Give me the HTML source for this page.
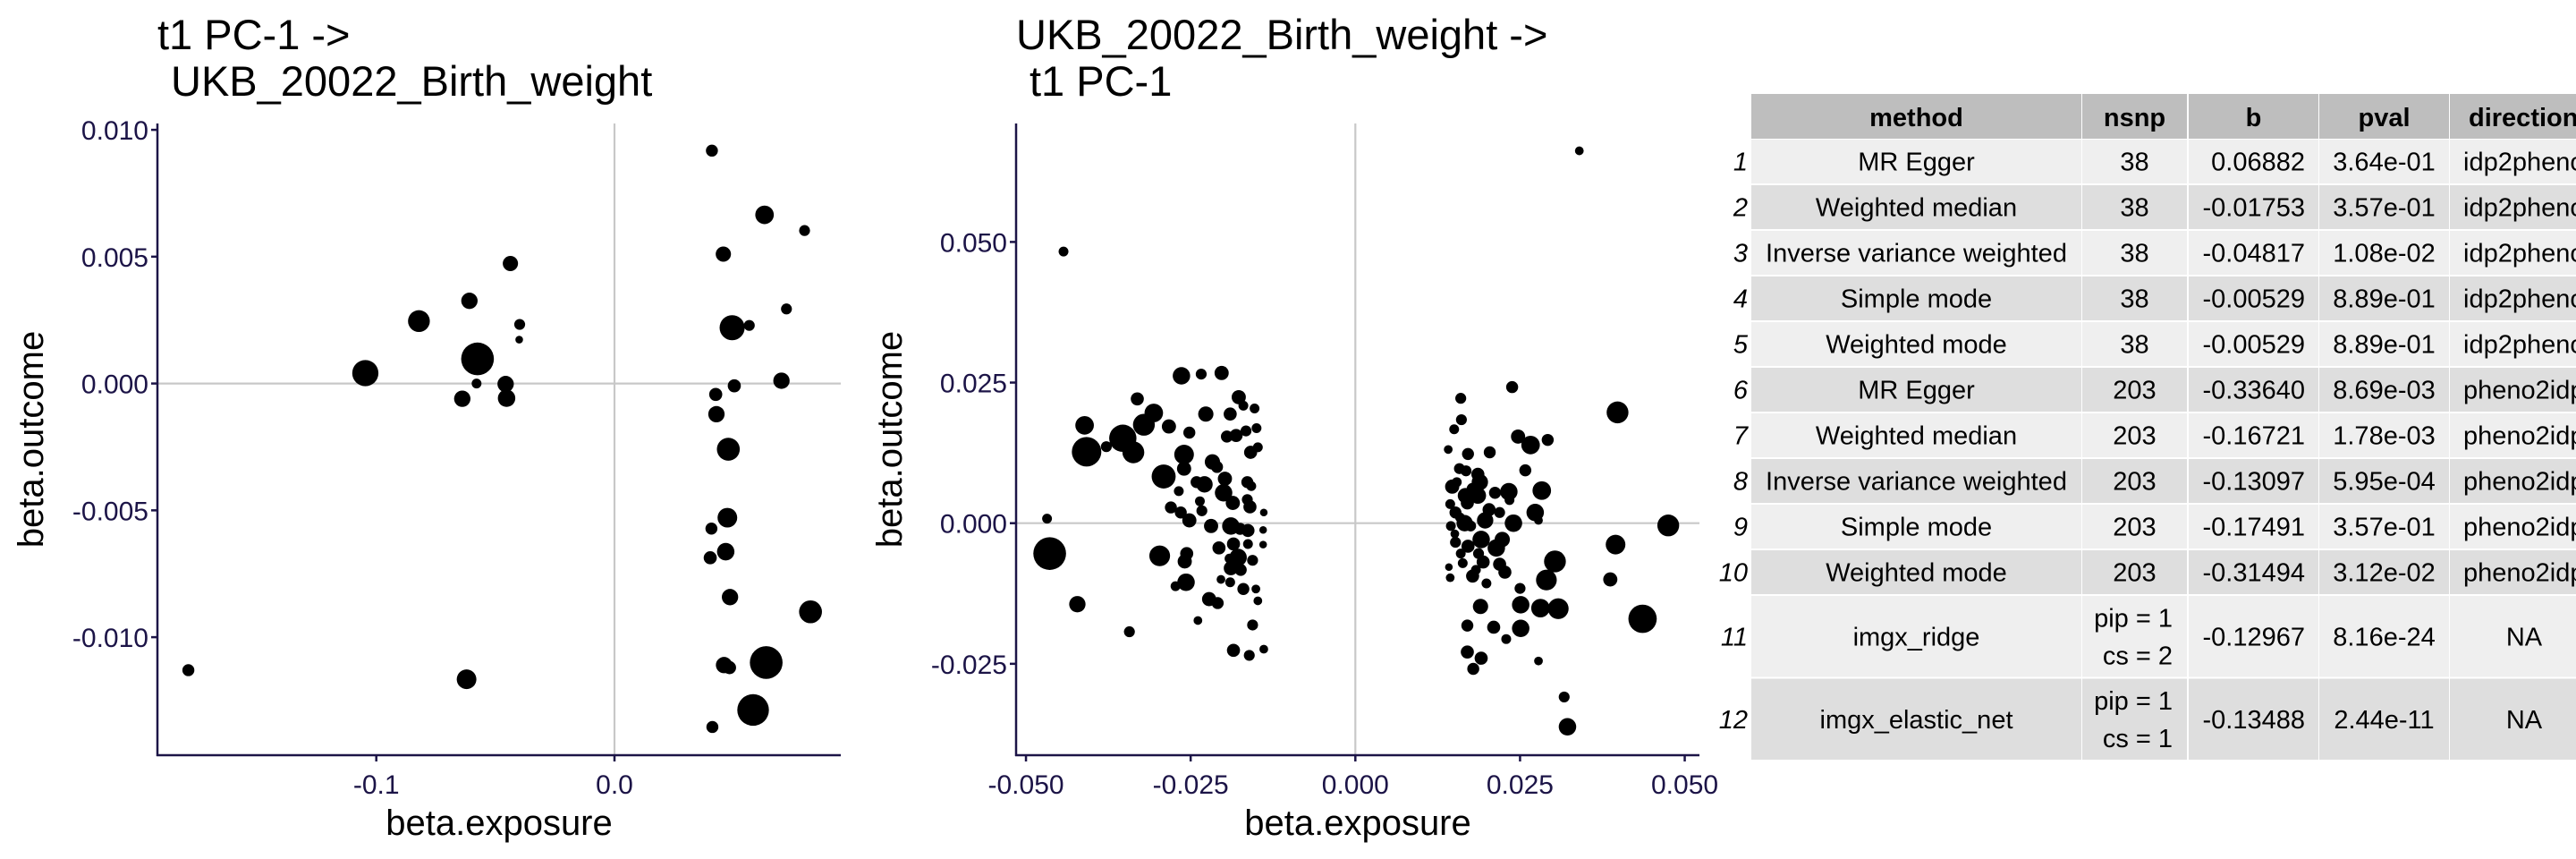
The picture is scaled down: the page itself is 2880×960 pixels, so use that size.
<!DOCTYPE html>
<html><head><meta charset="utf-8">
<style>
html,body{margin:0;padding:0;background:#fff;width:2880px;height:960px;overflow:hidden}
svg{display:block;font-family:"Liberation Sans",sans-serif}
</style></head>
<body>
<svg id="root" width="2880" height="960" viewBox="0 0 2880 960" xmlns="http://www.w3.org/2000/svg">
<g id="p1"></g>
<g id="p2"></g>
<g id="tbl"></g>
</svg>
<script>
// Panel 1 data: t1 PC-1 -> Birth weight
const p1x = [0.0409,0.063,0.0798,0.0457,-0.0437,-0.0609,-0.0821,-0.0398,-0.04,0.0722,0.0494,0.0566,-0.0575,-0.1046,-0.0579,-0.0457,-0.0453,-0.0639,0.0503,0.0701,0.0425,0.0428,0.0478,0.0407,0.0474,0.0402,0.0467,0.0485,0.0823,0.046,0.0483,0.0637,-0.1789,-0.0621,0.0582,0.0411];
const p1y = [0.00918,0.00665,0.00603,0.0051,0.00473,0.00326,0.00246,0.00233,0.00173,0.00294,0.0022,0.00229,0.00097,0.00041,0.0,-0.00002,-0.00058,-0.0006,-0.00009,0.00011,-0.00043,-0.00121,-0.00259,-0.00572,-0.00529,-0.00687,-0.00663,-0.00842,-0.009,-0.0111,-0.0112,-0.011,-0.0113,-0.01166,-0.01287,-0.01354];
const p1w = [11,17,10,14,14,15,20,10,7,10,23,10,30,24,9,15,16,15,12,15,12,15,21,11,18,12,16,15,21,15,12,30,11,18,29,11];
const p1xTicks = [-0.1,0.0];
const p1xTickLabels = ["-0.1","0.0"];
const p1yTicks = [0.010,0.005,0.0,-0.005,-0.010];
const p1yTickLabels = ["0.010","0.005","0.000","-0.005","-0.010"];

// Panel 2 data: Birth weight -> t1 PC-1
const p2x = [-0.0443,0.0340,-0.0468,-0.0464,-0.0422,-0.0343,-0.0411,-0.0408,-0.0378,-0.0353,-0.0337,-0.0331,-0.0321,-0.0306,-0.0291,-0.0283,-0.0297,-0.028,-0.0264,-0.0252,-0.0234,-0.0203,-0.026,-0.026,-0.0268,-0.0265,-0.0252,-0.0241,-0.0229,-0.0227,-0.0236,-0.0233,-0.0217,-0.021,-0.0219,-0.0198,-0.0200,-0.0186,-0.0189,-0.019,-0.0177,-0.017,-0.0153,-0.015,-0.0195,-0.0181,-0.0166,-0.0159,-0.0148,-0.0164,-0.0158,-0.0164,-0.016,-0.0139,-0.0175,-0.0163,-0.014,-0.014,-0.0163,-0.0185,-0.0191,-0.0178,-0.0156,-0.0189,-0.0259,-0.0256,-0.0257,-0.0273,-0.0204,-0.019,-0.017,-0.0151,-0.0148,-0.0222,-0.0209,-0.0239,-0.0156,-0.0185,-0.0161,-0.0139,-0.0207,-0.0174,
0.016,0.0161,0.015,0.0141,0.0171,0.0204,0.0238,0.0247,0.0266,0.0292,0.0258,0.0398,0.0283,0.0273,0.0278,0.0475,0.0395,0.0387,0.0436,0.0303,0.029,0.0281,0.0308,0.0251,0.025,0.0251,0.021,0.0229,0.019,0.017,0.017,0.0191,0.0179,0.0278,0.0317,0.0322,0.0147,0.0154,0.0158,0.0168,0.0186,0.0189,0.0178,0.0167,0.0186,0.0212,0.0233,0.0234,0.0144,0.0152,0.017,0.0159,0.0145,0.0166,0.0175,0.0197,0.0203,0.0219,0.024,0.0223,0.0214,0.0191,0.0171,0.0152,0.0151,0.016,0.0163,0.0187,0.0194,0.0219,0.0227,0.0178,0.0142,0.0144,0.0199,0.0183];
const p2y = [0.0483,0.0662,0.0008,-0.0054,-0.0144,-0.0193,0.0174,0.0127,0.0136,0.0151,0.0126,0.0221,0.0175,0.0196,0.0083,0.0172,-0.0058,0.0028,0.0262,0.0161,0.0265,0.0267,0.0122,0.0097,0.0057,0.0019,0.0005,0.0073,0.0069,0.0194,0.0039,0.0022,0.0109,0.01,-0.0005,0.0079,0.0054,0.0036,-0.0005,0.0194,0.0224,0.0209,0.0204,0.0169,0.0154,0.0156,0.0164,0.0126,0.0135,0.0073,0.0066,0.0042,0.0029,0.0019,-0.001,-0.0013,-0.0012,-0.0038,-0.0037,-0.0037,-0.0063,-0.0061,-0.0066,-0.008,-0.0068,-0.0054,-0.0105,-0.0112,-0.01,-0.0105,-0.0117,-0.0117,-0.0138,-0.0135,-0.0142,-0.0173,-0.0181,-0.0226,-0.0235,-0.0224,-0.0044,-0.0083,
0.0222,0.0184,0.0167,0.0131,0.0123,0.0126,0.0242,0.0154,0.0139,0.0148,0.0094,0.0197,0.0058,0.0019,0.0005,-0.0004,-0.0038,-0.01,-0.017,-0.0068,-0.0101,-0.0151,-0.0152,-0.0145,-0.0116,-0.0187,-0.0185,-0.0206,-0.0148,-0.0182,-0.0229,-0.024,-0.0259,-0.0245,-0.0309,-0.0362,0.0065,0.0073,0.0097,0.0093,0.0087,0.0073,0.0061,0.0049,0.0049,0.0054,0.0056,0.0041,0.0034,0.0019,0.0036,0.001,-0.0005,0.0,-0.0005,0.0005,0.0024,0.0019,0.0,-0.0029,-0.0044,-0.0029,-0.0041,-0.0034,-0.0019,-0.0054,-0.0071,-0.0054,-0.0069,-0.0073,-0.0087,-0.0094,-0.0078,-0.0097,-0.0107,-0.0083];
const p2w = [9,8,9,30,15,10,17,27,10,25,20,12,20,17,22,13,19,11,16,11,10,13,18,13,9,11,13,11,15,14,9,10,14,11,13,13,16,13,16,12,13,9,9,9,11,12,10,12,9,11,9,10,12,7,11,12,7,7,9,12,9,16,10,13,13,12,16,9,8,9,11,8,8,13,11,8,10,12,10,8,12,11,
10,10,9,8,11,11,11,13,17,11,11,20,17,16,8,20,18,13,26,20,19,17,19,16,10,16,12,9,14,11,12,12,11,8,10,16,13,9,10,10,12,15,11,14,15,11,16,9,9,11,12,9,9,15,10,15,12,10,16,14,16,16,12,10,8,9,9,10,12,12,12,12,7,8,9,9];
const p2xTicks = [-0.05,-0.025,0,0.025,0.05];
const p2xTickLabels = ["-0.050","-0.025","0.000","0.025","0.050"];
const p2yTicks = [0.05,0.025,0,-0.025];
const p2yTickLabels = ["0.050","0.025","0.000","-0.025"];

// Table data
const tMethods = ["MR Egger","Weighted median","Inverse variance weighted","Simple mode","Weighted mode","MR Egger","Weighted median","Inverse variance weighted","Simple mode","Weighted mode","imgx_ridge","imgx_elastic_net"];
const tNsnp = ["38","38","38","38","38","203","203","203","203","203","pip = 1|cs = 2","pip = 1|cs = 1"];
const tB = ["0.06882","-0.01753","-0.04817","-0.00529","-0.00529","-0.33640","-0.16721","-0.13097","-0.17491","-0.31494","-0.12967","-0.13488"];
const tPval = ["3.64e-01","3.57e-01","1.08e-02","8.89e-01","8.89e-01","8.69e-03","1.78e-03","5.95e-04","3.57e-01","3.12e-02","8.16e-24","2.44e-11"];
const tDir = ["idp2pheno","idp2pheno","idp2pheno","idp2pheno","idp2pheno","pheno2idp","pheno2idp","pheno2idp","pheno2idp","pheno2idp","NA","NA"];

const NS="http://www.w3.org/2000/svg";
function mk(parent,tag,attrs,text){const e=document.createElementNS(NS,tag);for(const k in attrs)e.setAttribute(k,attrs[k]);if(text!==undefined)e.textContent=text;parent.appendChild(e);return e;}

function panel(g,cfg){
  const sx=v=>cfg.x0+v*cfg.kx, sy=v=>cfg.y0-v*cfg.ky;
  const t=mk(g,'text',{x:cfg.L,y:55,'font-size':47,fill:'#000'},cfg.t1);
  
  
  const t2=mk(g,'text',{x:cfg.L+15,y:107,'font-size':47,fill:'#000'},cfg.t2);
  
  
  const hz=mk(g,'line',{x1:cfg.L,x2:cfg.R,y1:sy(0),y2:sy(0),stroke:'#c8c8c8','stroke-width':2.2});
  
  
  const vz=mk(g,'line',{x1:sx(0),x2:sx(0),y1:cfg.T,y2:cfg.B,stroke:'#c8c8c8','stroke-width':2.2});
  
  
  for(let i=0;i<cfg.xs.length;i++){
    const c=mk(g,'circle',{cx:sx(cfg.xs[i]),cy:sy(cfg.ys[i]),r:cfg.ws[i]*0.61,fill:'#000'});
    
    
  }
  const ay=mk(g,'line',{x1:cfg.L,x2:cfg.L,y1:cfg.T,y2:cfg.B+1,stroke:'#1c1447','stroke-width':2.5});
  
  
  const ax=mk(g,'line',{x1:cfg.L-1,x2:cfg.R,y1:cfg.B,y2:cfg.B,stroke:'#1c1447','stroke-width':2.5});
  
  
  cfg.xt.forEach((v,i)=>{
    mk(g,'line',{x1:sx(v),x2:sx(v),y1:cfg.B,y2:cfg.B+7,stroke:'#1c1447','stroke-width':2.5});
    const l=mk(g,'text',{x:sx(v),y:cfg.B+43,'font-size':30,fill:'#1c1447','text-anchor':'middle'},cfg.xl[i]);
    
    
  });
  cfg.yt.forEach((v,i)=>{
    mk(g,'line',{x1:cfg.L-7,x2:cfg.L,y1:sy(v),y2:sy(v),stroke:'#1c1447','stroke-width':2.5});
    const l=mk(g,'text',{x:cfg.L-10,y:sy(v)+11,'font-size':30,fill:'#1c1447','text-anchor':'end'},cfg.yl[i]);
    
    
  });
  const xt=mk(g,'text',{x:(cfg.L+cfg.R)/2,y:933,'font-size':40,fill:'#000','text-anchor':'middle'},'beta.exposure');
  
  
  const yx=cfg.L-128, yy=(cfg.T+cfg.B)/2;
  const ytt=mk(g,'text',{x:yx,y:yy,'font-size':40,fill:'#000','text-anchor':'middle',transform:`rotate(-90 ${yx} ${yy})`},'beta.outcome');
  
  
}

panel(document.getElementById('p1'),{L:176,R:940,T:138,B:844,x0:687,kx:2663,y0:428.6,ky:28350,
  t1:'t1 PC-1 ->',t2:'UKB_20022_Birth_weight',xs:p1x,ys:p1y,ws:p1w,xt:p1xTicks,xl:p1xTickLabels,yt:p1yTicks,yl:p1yTickLabels});
panel(document.getElementById('p2'),{L:1136,R:1900,T:138,B:844,x0:1515.3,kx:7365,y0:584.7,ky:6286,
  t1:'UKB_20022_Birth_weight ->',t2:'t1 PC-1',xs:p2x,ys:p2y,ws:p2w,xt:p2xTicks,xl:p2xTickLabels,yt:p2yTicks,yl:p2yTickLabels});

(function(){
  const g=document.getElementById('tbl');
  const cols=[[1958,2327],[2328,2445],[2447,2592],[2593,2738],[2739,2960]];
  const heads=['method','nsnp','b','pval','direction'];
  const rowsY=[];let y=156;
  for(let i=0;i<12;i++){const h=i<10?51:92.5;rowsY.push([y,y+h-2]);y+=h;}
  cols.forEach((c,j)=>{
    mk(g,'rect',{x:c[0],y:105,width:c[1]-c[0],height:50,fill:'#bebebe'});
    const h=mk(g,'text',{x:j===4?c[0]+21:(c[0]+c[1])/2,y:141,'font-size':29,'font-weight':'bold',fill:'#000','text-anchor':j===4?'start':'middle'},heads[j]);
    
    
  });
  for(let i=0;i<12;i++){
    const [y0,y1]=rowsY[i];const fill=i%2===0?'#efefef':'#dedede';const cy=(y0+y1)/2+10;
    const rn=mk(g,'text',{x:1954,y:cy,'font-size':29,'font-style':'italic',fill:'#000','text-anchor':'end'},String(i+1));
    
    
    cols.forEach(c=>mk(g,'rect',{x:c[0],y:y0,width:c[1]-c[0],height:y1-y0,fill:fill}));
    const m=mk(g,'text',{x:(cols[0][0]+cols[0][1])/2,y:cy,'font-size':29,fill:'#000','text-anchor':'middle'},tMethods[i]);
    
    
    const ns=tNsnp[i].split('|');
    if(ns.length===1){
      const n=mk(g,'text',{x:(cols[1][0]+cols[1][1])/2,y:cy,'font-size':29,fill:'#000','text-anchor':'middle'},ns[0]);
      
      
    } else {
      const n1=mk(g,'text',{x:cols[1][1]-16,y:cy-21,'font-size':29,fill:'#000','text-anchor':'end'},ns[0]);
      
      
      const n2=mk(g,'text',{x:cols[1][1]-16,y:cy+21,'font-size':29,fill:'#000','text-anchor':'end'},ns[1]);
      
      
    }
    const b=mk(g,'text',{x:cols[2][1]-15,y:cy,'font-size':29,fill:'#000','text-anchor':'end'},tB[i]);
    
    
    const p=mk(g,'text',{x:(cols[3][0]+cols[3][1])/2,y:cy,'font-size':29,fill:'#000','text-anchor':'middle'},tPval[i]);
    
    
    const d=mk(g,'text',{x:tDir[i]==='NA'?2822:cols[4][0]+15,y:cy,'font-size':29,fill:'#000','text-anchor':tDir[i]==='NA'?'middle':'start'},tDir[i]);
    
    
  }
})();
</script>
</body></html>
